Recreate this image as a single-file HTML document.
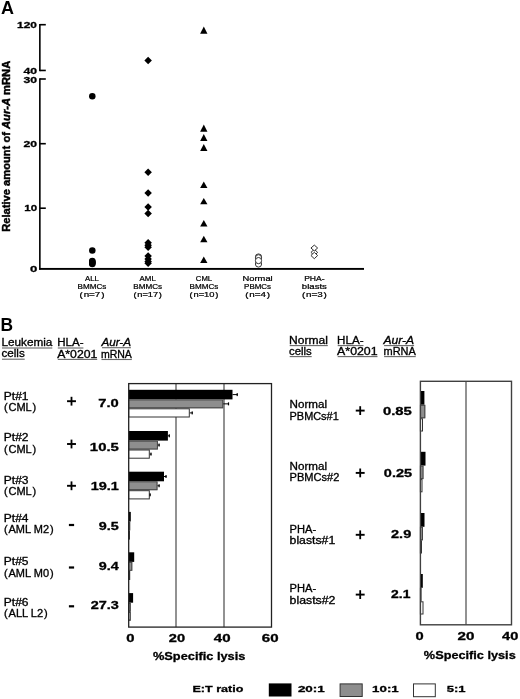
<!DOCTYPE html>
<html><head><meta charset="utf-8"><style>
html,body{margin:0;padding:0;background:#fff;}
svg{display:block;font-family:"Liberation Sans", sans-serif;filter:grayscale(1);}
</style></head><body>
<svg width="520" height="699" viewBox="0 0 520 699">
<rect width="520" height="699" fill="#fff"/>
<text x="0.91" y="13.80" font-size="17.8" font-weight="bold" textLength="12.98" lengthAdjust="spacingAndGlyphs" fill="#000" >A</text>
<rect x="39.05" y="24.00" width="1.60" height="47.20" fill="#000" />
<rect x="39.05" y="78.30" width="1.60" height="191.30" fill="#000" />
<rect x="39.85" y="23.90" width="5.95" height="1.60" fill="#000" />
<rect x="39.85" y="69.65" width="5.95" height="1.60" fill="#000" />
<rect x="39.85" y="78.20" width="5.95" height="1.60" fill="#000" />
<rect x="39.85" y="142.90" width="5.95" height="1.60" fill="#000" />
<rect x="39.85" y="207.40" width="5.95" height="1.60" fill="#000" />
<rect x="39.05" y="267.95" width="324.95" height="1.90" fill="#000" />
<text x="17.13" y="27.70" font-size="9.5" font-weight="bold" stroke="#000" stroke-width="0.3" textLength="19.84" lengthAdjust="spacingAndGlyphs" fill="#000" >120</text>
<text x="23.43" y="74.30" font-size="9.5" font-weight="bold" stroke="#000" stroke-width="0.3" textLength="13.64" lengthAdjust="spacingAndGlyphs" fill="#000" >40</text>
<text x="23.43" y="83.10" font-size="9.5" font-weight="bold" stroke="#000" stroke-width="0.3" textLength="13.64" lengthAdjust="spacingAndGlyphs" fill="#000" >30</text>
<text x="23.43" y="146.70" font-size="9.5" font-weight="bold" stroke="#000" stroke-width="0.3" textLength="13.64" lengthAdjust="spacingAndGlyphs" fill="#000" >20</text>
<text x="24.23" y="210.90" font-size="9.5" font-weight="bold" stroke="#000" stroke-width="0.3" textLength="12.84" lengthAdjust="spacingAndGlyphs" fill="#000" >10</text>
<text x="30.03" y="272.40" font-size="9.5" font-weight="bold" stroke="#000" stroke-width="0.3" textLength="7.34" lengthAdjust="spacingAndGlyphs" fill="#000" >0</text>
<g transform="translate(10.4,231.8) rotate(-90)">
<text x="0" y="0" font-size="10.5" font-weight="bold" stroke="#000" stroke-width="0.45" textLength="171" lengthAdjust="spacingAndGlyphs">Relative amount of <tspan font-style="italic">Aur-A</tspan> mRNA</text>
</g>
<text x="85.07" y="280.80" font-size="7.2" stroke="#000" stroke-width="0.22" textLength="13.86" lengthAdjust="spacingAndGlyphs" fill="#000" >ALL</text>
<text x="77.57" y="289.30" font-size="7.2" stroke="#000" stroke-width="0.22" textLength="28.86" lengthAdjust="spacingAndGlyphs" fill="#000" >BMMCs</text>
<text x="79.57" y="296.90" font-size="7.2" stroke="#000" stroke-width="0.22" textLength="24.86" lengthAdjust="spacingAndGlyphs" fill="#000" >( n=7 )</text>
<text x="139.57" y="280.80" font-size="7.2" stroke="#000" stroke-width="0.22" textLength="16.26" lengthAdjust="spacingAndGlyphs" fill="#000" >AML</text>
<text x="133.27" y="289.30" font-size="7.2" stroke="#000" stroke-width="0.22" textLength="28.86" lengthAdjust="spacingAndGlyphs" fill="#000" >BMMCs</text>
<text x="133.42" y="296.90" font-size="7.2" stroke="#000" stroke-width="0.22" textLength="28.56" lengthAdjust="spacingAndGlyphs" fill="#000" >( n=17 )</text>
<text x="195.82" y="280.80" font-size="7.2" stroke="#000" stroke-width="0.22" textLength="16.36" lengthAdjust="spacingAndGlyphs" fill="#000" >CML</text>
<text x="189.57" y="289.30" font-size="7.2" stroke="#000" stroke-width="0.22" textLength="28.86" lengthAdjust="spacingAndGlyphs" fill="#000" >BMMCs</text>
<text x="189.57" y="296.90" font-size="7.2" stroke="#000" stroke-width="0.22" textLength="28.86" lengthAdjust="spacingAndGlyphs" fill="#000" >( n=10 )</text>
<text x="242.52" y="280.80" font-size="7.2" stroke="#000" stroke-width="0.22" textLength="30.16" lengthAdjust="spacingAndGlyphs" fill="#000" >Normal</text>
<text x="244.12" y="289.30" font-size="7.2" stroke="#000" stroke-width="0.22" textLength="26.96" lengthAdjust="spacingAndGlyphs" fill="#000" >PBMCs</text>
<text x="245.17" y="296.90" font-size="7.2" stroke="#000" stroke-width="0.22" textLength="24.86" lengthAdjust="spacingAndGlyphs" fill="#000" >( n=4 )</text>
<text x="304.17" y="280.80" font-size="7.2" stroke="#000" stroke-width="0.22" textLength="20.46" lengthAdjust="spacingAndGlyphs" fill="#000" >PHA-</text>
<text x="301.87" y="289.30" font-size="7.2" stroke="#000" stroke-width="0.22" textLength="25.06" lengthAdjust="spacingAndGlyphs" fill="#000" >blasts</text>
<text x="301.97" y="296.90" font-size="7.2" stroke="#000" stroke-width="0.22" textLength="24.86" lengthAdjust="spacingAndGlyphs" fill="#000" >( n=3 )</text>
<circle cx="92.3" cy="96.3" r="3.25" fill="#000"/>
<circle cx="92.3" cy="250.4" r="3.25" fill="#000"/>
<circle cx="92.3" cy="260.9" r="3.25" fill="#000"/>
<circle cx="92.3" cy="261.8" r="3.25" fill="#000"/>
<circle cx="92.3" cy="262.6" r="3.25" fill="#000"/>
<circle cx="92.3" cy="263.3" r="3.25" fill="#000"/>
<circle cx="92.3" cy="263.9" r="3.25" fill="#000"/>
<polygon points="148.1,56.75 151.85,60.5 148.1,64.25 144.35,60.5" fill="#000"/>
<polygon points="148.1,168.55 151.85,172.3 148.1,176.05 144.35,172.3" fill="#000"/>
<polygon points="148.1,189.25 151.85,193 148.1,196.75 144.35,193" fill="#000"/>
<polygon points="148.1,203.25 151.85,207 148.1,210.75 144.35,207" fill="#000"/>
<polygon points="148.1,209.85 151.85,213.6 148.1,217.35 144.35,213.6" fill="#000"/>
<polygon points="148.1,239.05 151.85,242.8 148.1,246.55 144.35,242.8" fill="#000"/>
<polygon points="148.1,241.55 151.85,245.3 148.1,249.05 144.35,245.3" fill="#000"/>
<polygon points="148.1,243.45 151.85,247.2 148.1,250.95 144.35,247.2" fill="#000"/>
<polygon points="148.1,252.25 151.85,256.0 148.1,259.75 144.35,256.0" fill="#000"/>
<polygon points="148.1,255.25 151.85,259.0 148.1,262.75 144.35,259.0" fill="#000"/>
<polygon points="148.1,257.85 151.85,261.6 148.1,265.35 144.35,261.6" fill="#000"/>
<polygon points="148.1,259.55 151.85,263.3 148.1,267.05 144.35,263.3" fill="#000"/>
<polygon points="203.8,26.5 207.45000000000002,33.8 200.15,33.8" fill="#000"/>
<polygon points="203.8,124.6 207.45000000000002,131.7 200.15,131.7" fill="#000"/>
<polygon points="203.8,134.1 207.45000000000002,140.9 200.15,140.9" fill="#000"/>
<polygon points="203.8,144 207.45000000000002,150.9 200.15,150.9" fill="#000"/>
<polygon points="203.8,181.4 207.45000000000002,187.9 200.15,187.9" fill="#000"/>
<polygon points="203.8,197.9 207.45000000000002,204.3 200.15,204.3" fill="#000"/>
<polygon points="203.8,220 207.45000000000002,226.5 200.15,226.5" fill="#000"/>
<polygon points="203.8,235.8 207.45000000000002,242.2 200.15,242.2" fill="#000"/>
<polygon points="203.8,256.6 207.45000000000002,263 200.15,263" fill="#000"/>
<circle cx="258.5" cy="264.0" r="3.1" fill="#fff" stroke="#333" stroke-width="1"/>
<circle cx="258.5" cy="257.0" r="3.1" fill="#fff" stroke="#333" stroke-width="1"/>
<circle cx="258.5" cy="257.8" r="3.1" fill="#fff" stroke="#333" stroke-width="1"/>
<circle cx="258.5" cy="260.6" r="3.1" fill="#fff" stroke="#333" stroke-width="1"/>
<polygon points="314.3,249.3 317.65000000000003,252.4 314.3,255.5 310.95,252.4" fill="#fff" stroke="#333" stroke-width="1"/>
<polygon points="314.3,245.1 317.65000000000003,248.0 314.3,250.9 310.95,248.0" fill="#fff" stroke="#333" stroke-width="1"/>
<polygon points="314.3,252.3 317.65000000000003,255.5 314.3,258.7 310.95,255.5" fill="#fff" stroke="#333" stroke-width="1"/>
<text x="0.42" y="330.60" font-size="17.7" font-weight="bold" textLength="12.57" lengthAdjust="spacingAndGlyphs" fill="#000" >B</text>
<text x="1.40" y="346.20" font-size="10" stroke="#000" stroke-width="0.3" textLength="51.00" lengthAdjust="spacingAndGlyphs" fill="#000" >Leukemia</text>
<rect x="2.00" y="347.45" width="50.30" height="1.10" fill="#666" />
<text x="1.40" y="357.40" font-size="10" stroke="#000" stroke-width="0.3" textLength="23.40" lengthAdjust="spacingAndGlyphs" fill="#000" >cells</text>
<rect x="2.00" y="358.65" width="22.70" height="1.10" fill="#666" />
<text x="57.20" y="346.20" font-size="10" stroke="#000" stroke-width="0.3" textLength="26.30" lengthAdjust="spacingAndGlyphs" fill="#000" >HLA-</text>
<rect x="57.80" y="347.45" width="25.60" height="1.10" fill="#666" />
<text x="57.20" y="357.60" font-size="10" stroke="#000" stroke-width="0.3" textLength="40.10" lengthAdjust="spacingAndGlyphs" fill="#000" >A*0201</text>
<rect x="57.80" y="358.85" width="39.40" height="1.10" fill="#666" />
<text x="101.40" y="345.90" font-size="10" font-style="italic" stroke="#000" stroke-width="0.3" textLength="29.60" lengthAdjust="spacingAndGlyphs" fill="#000" >Aur-A</text>
<rect x="102.00" y="347.15" width="28.90" height="1.10" fill="#666" />
<text x="100.90" y="357.70" font-size="10" stroke="#000" stroke-width="0.3" textLength="31.00" lengthAdjust="spacingAndGlyphs" fill="#000" >mRNA</text>
<rect x="101.50" y="358.95" width="30.30" height="1.10" fill="#666" />
<text x="289.10" y="343.80" font-size="10" stroke="#000" stroke-width="0.3" textLength="38.80" lengthAdjust="spacingAndGlyphs" fill="#000" >Normal</text>
<rect x="289.70" y="345.05" width="38.10" height="1.10" fill="#666" />
<text x="289.10" y="354.80" font-size="10" stroke="#000" stroke-width="0.3" textLength="22.70" lengthAdjust="spacingAndGlyphs" fill="#000" >cells</text>
<rect x="289.70" y="356.05" width="22.00" height="1.10" fill="#666" />
<text x="337.10" y="343.80" font-size="10" stroke="#000" stroke-width="0.3" textLength="26.50" lengthAdjust="spacingAndGlyphs" fill="#000" >HLA-</text>
<rect x="337.70" y="345.05" width="25.80" height="1.10" fill="#666" />
<text x="337.10" y="354.80" font-size="10" stroke="#000" stroke-width="0.3" textLength="40.50" lengthAdjust="spacingAndGlyphs" fill="#000" >A*0201</text>
<rect x="337.70" y="356.05" width="39.80" height="1.10" fill="#666" />
<text x="383.50" y="343.80" font-size="10" font-style="italic" stroke="#000" stroke-width="0.3" textLength="30.70" lengthAdjust="spacingAndGlyphs" fill="#000" >Aur-A</text>
<rect x="384.10" y="345.05" width="30.00" height="1.10" fill="#666" />
<text x="383.50" y="354.80" font-size="10" stroke="#000" stroke-width="0.3" textLength="32.30" lengthAdjust="spacingAndGlyphs" fill="#000" >mRNA</text>
<rect x="384.10" y="356.05" width="31.60" height="1.10" fill="#666" />
<text x="3.80" y="399.80" font-size="10" stroke="#000" stroke-width="0.3" textLength="24.70" lengthAdjust="spacingAndGlyphs" fill="#000" >Pt#1</text>
<text x="3.90" y="411.00" font-size="10" stroke="#000" stroke-width="0.3" textLength="32.40" lengthAdjust="spacingAndGlyphs" fill="#000" >( CML )</text>
<rect x="67.05" y="400.25" width="8.90" height="1.90" fill="#000" />
<rect x="70.60" y="396.80" width="1.80" height="8.80" fill="#000" />
<text x="98.37" y="406.80" font-size="10.5" font-weight="bold" stroke="#000" stroke-width="0.3" textLength="20.46" lengthAdjust="spacingAndGlyphs" fill="#000" >7.0</text>
<text x="3.80" y="441.20" font-size="10" stroke="#000" stroke-width="0.3" textLength="24.70" lengthAdjust="spacingAndGlyphs" fill="#000" >Pt#2</text>
<text x="3.90" y="452.70" font-size="10" stroke="#000" stroke-width="0.3" textLength="32.40" lengthAdjust="spacingAndGlyphs" fill="#000" >( CML )</text>
<rect x="67.05" y="443.05" width="8.90" height="1.90" fill="#000" />
<rect x="70.60" y="439.60" width="1.80" height="8.80" fill="#000" />
<text x="89.87" y="450.50" font-size="10.5" font-weight="bold" stroke="#000" stroke-width="0.3" textLength="28.96" lengthAdjust="spacingAndGlyphs" fill="#000" >10.5</text>
<text x="3.80" y="483.80" font-size="10" stroke="#000" stroke-width="0.3" textLength="24.70" lengthAdjust="spacingAndGlyphs" fill="#000" >Pt#3</text>
<text x="3.90" y="495.40" font-size="10" stroke="#000" stroke-width="0.3" textLength="32.40" lengthAdjust="spacingAndGlyphs" fill="#000" >( CML )</text>
<rect x="67.05" y="484.85" width="8.90" height="1.90" fill="#000" />
<rect x="70.60" y="481.40" width="1.80" height="8.80" fill="#000" />
<text x="90.67" y="490.00" font-size="10.5" font-weight="bold" stroke="#000" stroke-width="0.3" textLength="28.16" lengthAdjust="spacingAndGlyphs" fill="#000" >19.1</text>
<text x="3.80" y="521.70" font-size="10" stroke="#000" stroke-width="0.3" textLength="24.70" lengthAdjust="spacingAndGlyphs" fill="#000" >Pt#4</text>
<text x="3.90" y="533.30" font-size="10" stroke="#000" stroke-width="0.3" textLength="49.70" lengthAdjust="spacingAndGlyphs" fill="#000" >( AML M2 )</text>
<rect x="68.90" y="523.90" width="5.20" height="2.20" fill="#000" />
<text x="98.87" y="530.00" font-size="10.5" font-weight="bold" stroke="#000" stroke-width="0.3" textLength="19.96" lengthAdjust="spacingAndGlyphs" fill="#000" >9.5</text>
<text x="3.80" y="565.20" font-size="10" stroke="#000" stroke-width="0.3" textLength="24.70" lengthAdjust="spacingAndGlyphs" fill="#000" >Pt#5</text>
<text x="3.90" y="576.80" font-size="10" stroke="#000" stroke-width="0.3" textLength="49.70" lengthAdjust="spacingAndGlyphs" fill="#000" >( AML M0 )</text>
<rect x="68.90" y="566.40" width="5.20" height="2.20" fill="#000" />
<text x="98.87" y="570.00" font-size="10.5" font-weight="bold" stroke="#000" stroke-width="0.3" textLength="19.96" lengthAdjust="spacingAndGlyphs" fill="#000" >9.4</text>
<text x="3.80" y="605.50" font-size="10" stroke="#000" stroke-width="0.3" textLength="24.70" lengthAdjust="spacingAndGlyphs" fill="#000" >Pt#6</text>
<text x="3.90" y="616.70" font-size="10" stroke="#000" stroke-width="0.3" textLength="43.90" lengthAdjust="spacingAndGlyphs" fill="#000" >( ALL L2 )</text>
<rect x="68.90" y="605.20" width="5.20" height="2.20" fill="#000" />
<text x="90.67" y="608.80" font-size="10.5" font-weight="bold" stroke="#000" stroke-width="0.3" textLength="28.16" lengthAdjust="spacingAndGlyphs" fill="#000" >27.3</text>
<rect x="175.45" y="383.60" width="1.10" height="243.50" fill="#3a3a3a" />
<rect x="223.45" y="383.60" width="1.10" height="243.50" fill="#3a3a3a" />
<rect x="128.70" y="389.80" width="103.80" height="9.60" fill="#000" />
<rect x="232.50" y="394.10" width="5.20" height="1.00" fill="#000" />
<rect x="236.60" y="393.10" width="1.20" height="3.00" fill="#000" />
<rect x="128.70" y="399.40" width="94.60" height="8.90" fill="#8e8e8e" />
<rect x="128.70" y="399.90" width="94.10" height="7.90" fill="none" stroke="#444" stroke-width="1"/>
<rect x="223.30" y="403.35" width="5.70" height="1.00" fill="#000" />
<rect x="227.90" y="402.35" width="1.20" height="3.00" fill="#000" />
<rect x="128.70" y="408.80" width="60.60" height="8.20" fill="#fff" stroke="#333" stroke-width="1"/>
<rect x="189.80" y="412.40" width="2.90" height="1.00" fill="#000" />
<rect x="191.60" y="411.40" width="1.20" height="3.00" fill="#000" />
<rect x="128.70" y="431.00" width="39.20" height="9.60" fill="#000" />
<rect x="167.90" y="435.30" width="1.90" height="1.00" fill="#000" />
<rect x="168.70" y="434.30" width="1.20" height="3.00" fill="#000" />
<rect x="128.70" y="440.60" width="29.20" height="8.90" fill="#8e8e8e" />
<rect x="128.70" y="441.10" width="28.70" height="7.90" fill="none" stroke="#444" stroke-width="1"/>
<rect x="157.90" y="444.55" width="1.70" height="1.00" fill="#000" />
<rect x="158.50" y="443.55" width="1.20" height="3.00" fill="#000" />
<rect x="128.70" y="450.00" width="20.60" height="8.20" fill="#fff" stroke="#333" stroke-width="1"/>
<rect x="149.80" y="453.60" width="1.70" height="1.00" fill="#000" />
<rect x="150.40" y="452.60" width="1.20" height="3.00" fill="#000" />
<rect x="128.70" y="471.70" width="35.30" height="9.60" fill="#000" />
<rect x="164.00" y="476.00" width="2.50" height="1.00" fill="#000" />
<rect x="165.40" y="475.00" width="1.20" height="3.00" fill="#000" />
<rect x="128.70" y="481.30" width="28.80" height="8.90" fill="#8e8e8e" />
<rect x="128.70" y="481.80" width="28.30" height="7.90" fill="none" stroke="#444" stroke-width="1"/>
<rect x="157.50" y="485.25" width="2.10" height="1.00" fill="#000" />
<rect x="158.50" y="484.25" width="1.20" height="3.00" fill="#000" />
<rect x="128.70" y="490.70" width="20.60" height="8.20" fill="#fff" stroke="#333" stroke-width="1"/>
<rect x="149.80" y="494.30" width="0.80" height="1.00" fill="#000" />
<rect x="149.50" y="493.30" width="1.20" height="3.00" fill="#000" />
<rect x="128.70" y="511.90" width="2.10" height="9.60" fill="#000" />
<rect x="128.70" y="521.50" width="1.50" height="8.90" fill="#8e8e8e" />
<rect x="128.70" y="522.00" width="1.00" height="7.90" fill="none" stroke="#444" stroke-width="1"/>
<rect x="128.70" y="530.90" width="0.80" height="8.20" fill="#fff" stroke="#333" stroke-width="1"/>
<rect x="128.70" y="552.30" width="5.50" height="9.60" fill="#000" />
<rect x="128.70" y="561.90" width="3.60" height="8.90" fill="#8e8e8e" />
<rect x="128.70" y="562.40" width="3.10" height="7.90" fill="none" stroke="#444" stroke-width="1"/>
<rect x="128.70" y="571.30" width="1.00" height="8.20" fill="#fff" stroke="#333" stroke-width="1"/>
<rect x="128.70" y="593.10" width="4.40" height="9.60" fill="#000" />
<rect x="128.70" y="602.70" width="2.10" height="8.90" fill="#8e8e8e" />
<rect x="128.70" y="603.20" width="1.60" height="7.90" fill="none" stroke="#444" stroke-width="1"/>
<rect x="128.70" y="612.10" width="1.60" height="8.20" fill="#fff" stroke="#333" stroke-width="1"/>
<rect x="128.70" y="383.60" width="142.80" height="243.50" fill="none" stroke="#222" stroke-width="1.3"/>
<text x="126.17" y="641.50" font-size="10.5" font-weight="bold" stroke="#000" stroke-width="0.3" textLength="8.26" lengthAdjust="spacingAndGlyphs" fill="#000" >0</text>
<text x="168.87" y="641.50" font-size="10.5" font-weight="bold" stroke="#000" stroke-width="0.3" textLength="16.26" lengthAdjust="spacingAndGlyphs" fill="#000" >20</text>
<text x="213.87" y="641.50" font-size="10.5" font-weight="bold" stroke="#000" stroke-width="0.3" textLength="16.76" lengthAdjust="spacingAndGlyphs" fill="#000" >40</text>
<text x="261.87" y="641.50" font-size="10.5" font-weight="bold" stroke="#000" stroke-width="0.3" textLength="16.76" lengthAdjust="spacingAndGlyphs" fill="#000" >60</text>
<text x="152.97" y="660.00" font-size="11" font-weight="bold" stroke="#000" stroke-width="0.3" textLength="92.36" lengthAdjust="spacingAndGlyphs" fill="#000" >%Specific lysis</text>
<text x="289.60" y="407.90" font-size="10" stroke="#000" stroke-width="0.3" textLength="37.50" lengthAdjust="spacingAndGlyphs" fill="#000" >Normal</text>
<text x="289.60" y="419.60" font-size="10" stroke="#000" stroke-width="0.3" textLength="49.10" lengthAdjust="spacingAndGlyphs" fill="#000" >PBMCs#1</text>
<rect x="355.75" y="409.65" width="8.90" height="1.90" fill="#000" />
<rect x="359.30" y="406.20" width="1.80" height="8.80" fill="#000" />
<text x="382.97" y="414.50" font-size="10.5" font-weight="bold" stroke="#000" stroke-width="0.3" textLength="28.86" lengthAdjust="spacingAndGlyphs" fill="#000" >0.85</text>
<text x="289.60" y="470.30" font-size="10" stroke="#000" stroke-width="0.3" textLength="37.50" lengthAdjust="spacingAndGlyphs" fill="#000" >Normal</text>
<text x="289.60" y="481.30" font-size="10" stroke="#000" stroke-width="0.3" textLength="49.70" lengthAdjust="spacingAndGlyphs" fill="#000" >PBMCs#2</text>
<rect x="355.75" y="471.95" width="8.90" height="1.90" fill="#000" />
<rect x="359.30" y="468.50" width="1.80" height="8.80" fill="#000" />
<text x="383.87" y="476.90" font-size="10.5" font-weight="bold" stroke="#000" stroke-width="0.3" textLength="28.16" lengthAdjust="spacingAndGlyphs" fill="#000" >0.25</text>
<text x="289.60" y="532.70" font-size="10" stroke="#000" stroke-width="0.3" textLength="26.60" lengthAdjust="spacingAndGlyphs" fill="#000" >PHA-</text>
<text x="289.60" y="543.70" font-size="10" stroke="#000" stroke-width="0.3" textLength="45.60" lengthAdjust="spacingAndGlyphs" fill="#000" >blasts#1</text>
<rect x="355.75" y="533.85" width="8.90" height="1.90" fill="#000" />
<rect x="359.30" y="530.40" width="1.80" height="8.80" fill="#000" />
<text x="391.07" y="538.30" font-size="10.5" font-weight="bold" stroke="#000" stroke-width="0.3" textLength="20.16" lengthAdjust="spacingAndGlyphs" fill="#000" >2.9</text>
<text x="289.60" y="592.30" font-size="10" stroke="#000" stroke-width="0.3" textLength="26.60" lengthAdjust="spacingAndGlyphs" fill="#000" >PHA-</text>
<text x="289.60" y="603.70" font-size="10" stroke="#000" stroke-width="0.3" textLength="45.80" lengthAdjust="spacingAndGlyphs" fill="#000" >blasts#2</text>
<rect x="355.75" y="593.65" width="8.90" height="1.90" fill="#000" />
<rect x="359.30" y="590.20" width="1.80" height="8.80" fill="#000" />
<text x="391.07" y="597.50" font-size="10.5" font-weight="bold" stroke="#000" stroke-width="0.3" textLength="19.36" lengthAdjust="spacingAndGlyphs" fill="#000" >2.1</text>
<rect x="465.45" y="381.30" width="1.10" height="243.50" fill="#3a3a3a" />
<rect x="420.40" y="391.00" width="4.00" height="13.80" fill="#000" />
<rect x="420.40" y="404.80" width="4.90" height="13.50" fill="#8e8e8e" />
<rect x="420.40" y="405.30" width="4.40" height="12.50" fill="none" stroke="#444" stroke-width="1"/>
<rect x="420.40" y="418.80" width="2.10" height="12.20" fill="#fff" stroke="#333" stroke-width="1"/>
<rect x="420.40" y="451.80" width="5.10" height="13.80" fill="#000" />
<rect x="420.40" y="465.60" width="3.10" height="13.50" fill="#8e8e8e" />
<rect x="420.40" y="466.10" width="2.60" height="12.50" fill="none" stroke="#444" stroke-width="1"/>
<rect x="420.40" y="479.60" width="1.60" height="12.20" fill="#fff" stroke="#333" stroke-width="1"/>
<rect x="420.40" y="513.00" width="4.10" height="13.80" fill="#000" />
<rect x="420.40" y="526.80" width="2.60" height="13.50" fill="#8e8e8e" />
<rect x="420.40" y="527.30" width="2.10" height="12.50" fill="none" stroke="#444" stroke-width="1"/>
<rect x="420.40" y="540.80" width="1.10" height="12.20" fill="#fff" stroke="#333" stroke-width="1"/>
<rect x="420.40" y="574.00" width="2.40" height="13.80" fill="#000" />
<rect x="420.40" y="587.80" width="1.10" height="13.50" fill="#8e8e8e" />
<rect x="420.40" y="588.30" width="0.60" height="12.50" fill="none" stroke="#444" stroke-width="1"/>
<rect x="420.40" y="601.80" width="2.60" height="12.20" fill="#fff" stroke="#333" stroke-width="1"/>
<rect x="420.40" y="381.30" width="91.10" height="243.50" fill="none" stroke="#404040" stroke-width="1.4"/>
<text x="415.57" y="639.50" font-size="10.5" font-weight="bold" stroke="#000" stroke-width="0.3" textLength="8.16" lengthAdjust="spacingAndGlyphs" fill="#000" >0</text>
<text x="457.57" y="639.50" font-size="10.5" font-weight="bold" stroke="#000" stroke-width="0.3" textLength="16.86" lengthAdjust="spacingAndGlyphs" fill="#000" >20</text>
<text x="502.07" y="639.50" font-size="10.5" font-weight="bold" stroke="#000" stroke-width="0.3" textLength="16.26" lengthAdjust="spacingAndGlyphs" fill="#000" >40</text>
<text x="423.87" y="658.90" font-size="11" font-weight="bold" stroke="#000" stroke-width="0.3" textLength="91.86" lengthAdjust="spacingAndGlyphs" fill="#000" >%Specific lysis</text>
<text x="192.51" y="691.60" font-size="9.6" font-weight="bold" stroke="#000" stroke-width="0.3" textLength="50.88" lengthAdjust="spacingAndGlyphs" fill="#000" >E:T ratio</text>
<rect x="268.80" y="683.40" width="22.70" height="13.10" fill="#000" />
<text x="297.91" y="692.30" font-size="9.8" font-weight="bold" stroke="#000" stroke-width="0.3" textLength="26.88" lengthAdjust="spacingAndGlyphs" fill="#000" >20:1</text>
<rect x="340.1" y="683.9" width="22.1" height="12.6" fill="#8e8e8e" stroke="#333" stroke-width="1"/>
<text x="372.11" y="692.30" font-size="9.8" font-weight="bold" stroke="#000" stroke-width="0.3" textLength="26.58" lengthAdjust="spacingAndGlyphs" fill="#000" >10:1</text>
<rect x="413.5" y="683.9" width="21.8" height="12.8" fill="#fff" stroke="#333" stroke-width="1"/>
<text x="446.71" y="692.30" font-size="9.8" font-weight="bold" stroke="#000" stroke-width="0.3" textLength="18.88" lengthAdjust="spacingAndGlyphs" fill="#000" >5:1</text>
</svg>
</body></html>
